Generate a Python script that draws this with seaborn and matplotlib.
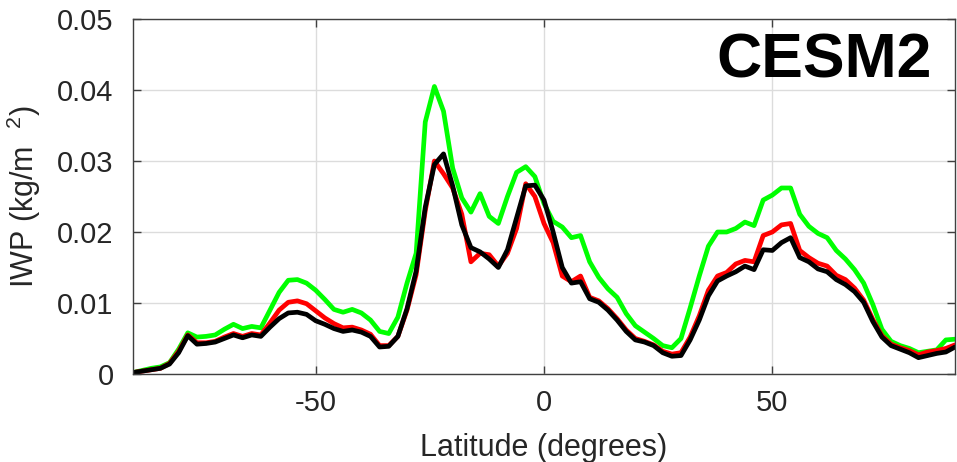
import numpy as np
import pandas as pd
import matplotlib
matplotlib.use("Agg")
import matplotlib.pyplot as plt
import seaborn as sns

# Zonal-mean ice water path (kg/m^2) on a 2-degree latitude grid
latitude = list(range(-90, 91, 2))

iwp_green = [
    0.0002, 0.0005, 0.0008, 0.0010, 0.0016, 0.0035, 0.0058, 0.0052, 0.0053, 0.0055,
    0.0063, 0.0070, 0.0064, 0.0067, 0.0065, 0.0090, 0.0115, 0.0132, 0.0133, 0.0128,
    0.0118, 0.0105, 0.0091, 0.0087, 0.0091, 0.0086, 0.0076, 0.0060, 0.0057, 0.0080,
    0.0128, 0.0170, 0.0355, 0.0405, 0.0370, 0.0290, 0.0248, 0.0228, 0.0254, 0.0222,
    0.0212, 0.0250, 0.0284, 0.0292, 0.0278, 0.0240, 0.0215, 0.0207, 0.0192, 0.0195,
    0.0158, 0.0136, 0.0120, 0.0108, 0.0085, 0.0068, 0.0059, 0.0050, 0.0040, 0.0037,
    0.0050, 0.0093, 0.0138, 0.0180, 0.0200, 0.0200, 0.0205, 0.0214, 0.0209, 0.0245,
    0.0252, 0.0262, 0.0262, 0.0225, 0.0208, 0.0198, 0.0192, 0.0174, 0.0162, 0.0147,
    0.0128, 0.0098, 0.0063, 0.0046, 0.0040, 0.0036, 0.0030, 0.0032, 0.0034, 0.0048,
    0.0049,
]

iwp_red = [
    0.0002, 0.0004, 0.0006, 0.0008, 0.0015, 0.0032, 0.0055, 0.0044, 0.0044, 0.0046,
    0.0052, 0.0057, 0.0053, 0.0057, 0.0055, 0.0072, 0.0090, 0.0101, 0.0103, 0.0099,
    0.0089, 0.0079, 0.0071, 0.0065, 0.0066, 0.0062, 0.0056, 0.0040, 0.0040, 0.0053,
    0.0090, 0.0140, 0.0230, 0.0300, 0.0282, 0.0262, 0.0225, 0.0158, 0.0170, 0.0168,
    0.0152, 0.0170, 0.0205, 0.0268, 0.0250, 0.0212, 0.0185, 0.0138, 0.0130, 0.0138,
    0.0108, 0.0103, 0.0092, 0.0078, 0.0062, 0.0050, 0.0046, 0.0041, 0.0032, 0.0028,
    0.0030, 0.0052, 0.0082, 0.0118, 0.0138, 0.0143, 0.0155, 0.0160, 0.0158, 0.0195,
    0.0200, 0.0210, 0.0212, 0.0174, 0.0164, 0.0156, 0.0152, 0.0139, 0.0133, 0.0121,
    0.0104, 0.0077, 0.0054, 0.0042, 0.0037, 0.0033, 0.0027, 0.0031, 0.0033, 0.0036,
    0.0041,
]

iwp_black = [
    0.0002, 0.0004, 0.0006, 0.0008, 0.0014, 0.0030, 0.0054, 0.0042, 0.0043, 0.0045,
    0.0050, 0.0055, 0.0051, 0.0055, 0.0053, 0.0066, 0.0078, 0.0086, 0.0087, 0.0084,
    0.0075, 0.0070, 0.0064, 0.0060, 0.0062, 0.0059, 0.0053, 0.0038, 0.0039, 0.0053,
    0.0092, 0.0145, 0.0235, 0.0295, 0.0310, 0.0265, 0.0210, 0.0178, 0.0172, 0.0162,
    0.0150, 0.0175, 0.0220, 0.0265, 0.0266, 0.0245, 0.0200, 0.0150, 0.0128, 0.0130,
    0.0106, 0.0101, 0.0090, 0.0076, 0.0060, 0.0048, 0.0045, 0.0040, 0.0030, 0.0025,
    0.0026, 0.0048, 0.0076, 0.0110, 0.0131, 0.0138, 0.0144, 0.0152, 0.0147, 0.0175,
    0.0174, 0.0185, 0.0192, 0.0164, 0.0158, 0.0148, 0.0144, 0.0133, 0.0126, 0.0116,
    0.0101, 0.0074, 0.0052, 0.0040, 0.0035, 0.0030, 0.0023, 0.0026, 0.0029, 0.0031,
    0.0038,
]

series_names = ["green", "red", "black"]
series_colors = ["#00ff00", "#ff0000", "#000000"]

x_ticks = [-50, 0, 50]
x_tick_labels = ["-50", "0", "50"]
y_ticks = [0, 0.01, 0.02, 0.03, 0.04, 0.05]
y_tick_labels = ["0", "0.01", "0.02", "0.03", "0.04", "0.05"]

df = pd.concat(
    [
        pd.DataFrame({"lat": latitude, "iwp": vals, "run": name})
        for name, vals in zip(series_names, [iwp_green, iwp_red, iwp_black])
    ],
    ignore_index=True,
)

sns.set_theme(style="whitegrid")
plt.rcParams["font.family"] = ["Liberation Sans", "DejaVu Sans"]
plt.rcParams["axes.unicode_minus"] = False
plt.rcParams["mathtext.fontset"] = "custom"
plt.rcParams["mathtext.rm"] = "Liberation Sans"
plt.rcParams["mathtext.it"] = "Liberation Sans"

fig = plt.figure(figsize=(9.57, 4.62), dpi=100)
ax = fig.add_axes([133 / 957, 1 - 374 / 462, 822 / 957, 355 / 462])

sns.lineplot(
    data=df, x="lat", y="iwp", hue="run", hue_order=series_names,
    palette=series_colors, linewidth=3.4, legend=False, ax=ax,
)
for line in ax.get_lines():
    line.set_solid_joinstyle("round")
    line.set_solid_capstyle("round")

ax.set_xlim(-90, 90)
ax.set_ylim(0, 0.05)
ax.set_xticks(x_ticks)
ax.set_xticklabels(x_tick_labels)
ax.set_yticks(y_ticks)
ax.set_yticklabels(y_tick_labels)

ax.set_facecolor("white")
ax.grid(True, color="#dcdcdc", linewidth=1.0)
ax.set_axisbelow(True)
for side in ["left", "right", "top", "bottom"]:
    ax.spines[side].set_visible(True)
    ax.spines[side].set_color("#404040")
    ax.spines[side].set_linewidth(1.0)

ax.tick_params(
    axis="both", which="both", direction="in", length=6, width=1.0,
    color="#404040", labelcolor="#262626", labelsize=21,
    top=True, right=True, bottom=True, left=True,
)
ax.tick_params(axis="y", pad=14)
ax.tick_params(axis="x", pad=11)

ax.set_xlabel("Latitude (degrees)", fontsize=22, color="#262626")
ax.set_ylabel("IWP (kg/m  $^{2}$)", fontsize=22, color="#262626")
ax.xaxis.set_label_coords(0.5, -0.165)
ax.yaxis.set_label_coords(-0.109, 0.5)

ax.text(0.972, 0.834, "CESM2", transform=ax.transAxes, ha="right", va="baseline",
        fontsize=45, fontweight="bold", color="black")

fig.savefig("out.png", dpi=100, facecolor="white")
